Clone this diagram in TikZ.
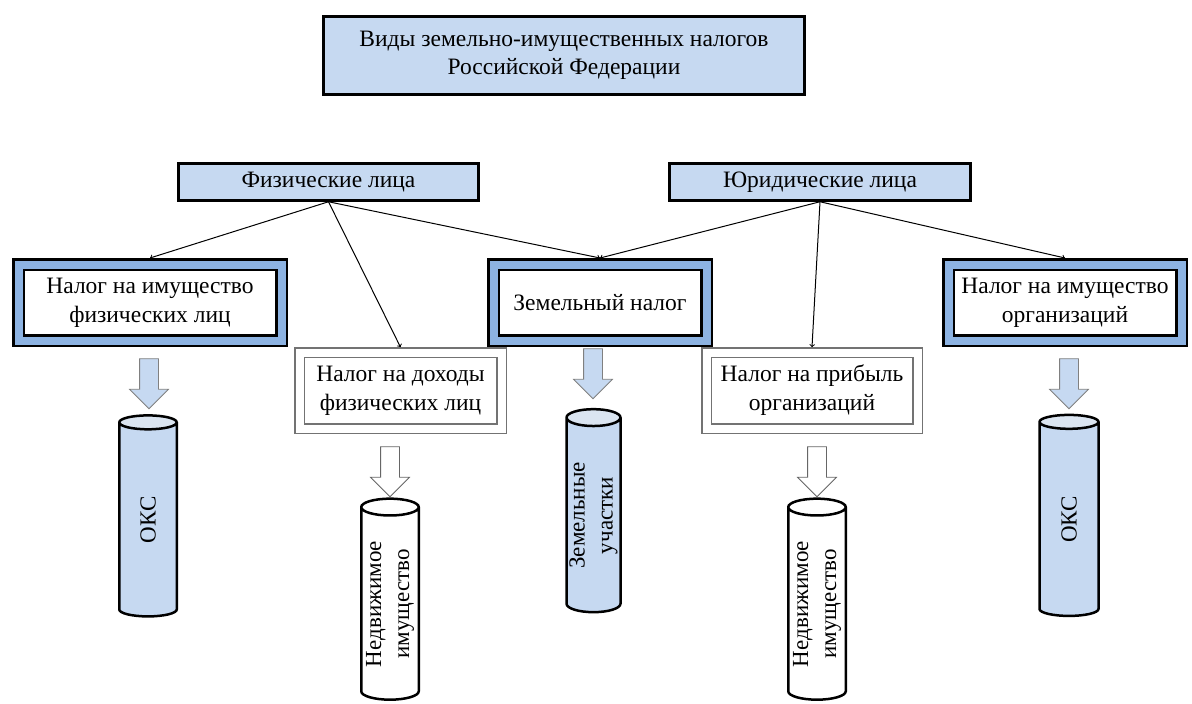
\documentclass[tikz,border=0pt]{standalone}
\usepackage{fontspec}
\setmainfont{Liberation Serif}
\usetikzlibrary{arrows,shapes.geometric,shapes.arrows}

\definecolor{paleblue}{HTML}{C6D9F1}
\definecolor{capblue}{HTML}{DBE5F1}
\definecolor{bandblue}{HTML}{8DB3E2}

\tikzset{
  kind/.style={draw, fill=paleblue, line width=2.5pt, align=center,
    font=\fontsize{23.5}{28}\selectfont},
  maintax/.style={draw, fill=white, line width=2.5pt, double=bandblue,
    double distance=8pt, outer sep=6.5pt, align=center,
    font=\fontsize{23.5}{29}\selectfont},
  othertax/.style={draw=black!55, fill=white, line width=1.3pt, double=white,
    double distance=8pt, outer sep=5.3pt, align=center,
    font=\fontsize{23.5}{29}\selectfont},
  base/.style={cylinder, rotate=90, draw, line width=2.5pt, aspect=0.35,
    cylinder uses custom fill, cylinder body fill=paleblue,
    cylinder end fill=capblue, align=center, inner sep=0pt,
    font=\fontsize{23}{28}\selectfont},
  down/.style={single arrow, rotate=-90, draw=black!50, line width=0.8pt,
    fill=paleblue, inner sep=9pt, single arrow head extend=10pt,
    minimum width=38, minimum height=50},
  link/.style={->, line width=1pt},
}

\begin{document}
\begin{tikzpicture}[x=1pt,y=-1pt]
    \useasboundingbox (0,0) rectangle (1192,704);

    \node[kind, minimum width=481, minimum height=78] at (564,55.5) (vidy)
        {Виды земельно-имущественных налогов\\Российской Федерации};
    \node[kind, minimum width=300, minimum height=37] at (328.5,182) (fiz) {Физические лица};
    \node[kind, minimum width=301, minimum height=37] at (820,182) (yur) {Юридические лица};

    \node[maintax, minimum width=263, minimum height=76] at (150,302.5) (nfl)
        {Налог на имущество\\физических лиц};
    \node[maintax, minimum width=213, minimum height=76] at (600,302.5) (zem) {Земельный налог};
    \node[maintax, minimum width=233, minimum height=76] at (1065,302.5) (norg)
        {Налог на имущество\\организаций};
    \node[othertax, minimum width=202, minimum height=76] at (400.5,390.5) (ndfl)
        {Налог на доходы\\физических лиц};
    \node[othertax, minimum width=211, minimum height=76] at (812,390.5) (npo)
        {Налог на прибыль\\организаций};

    \node[base, aspect=0.9, minimum height=201, minimum width=57.5] at (148,520) (oks1) {ОКС};
    \node[base, minimum height=201, minimum width=57.5, cylinder body fill=white,
        cylinder end fill=white] at (390,604) (nedv1) {Недвижимое\\имущество};
    \node[base, minimum height=203, minimum width=54] at (593.5,515.5) (uch) {Земельные\\участки};
    \node[base, minimum height=201, minimum width=57.5, cylinder body fill=white,
        cylinder end fill=white] at (817,604) (nedv2) {Недвижимое\\имущество};
    \node[base, aspect=0.9, minimum height=201, minimum width=59] at (1069,519.5) (oks2) {ОКС};

    \node[down] at (149,379) (s1) {};
    \node[down, fill=white, draw=black!60] at (390,467) (s2) {};
    \node[down] at (593,369) (s3) {};
    \node[down, fill=white, draw=black!60] at (817,467) (s4) {};
    \node[down] at (1069,379) (s5) {};

    \draw[link] (fiz.south) -- (nfl.north);
    \draw[link] (fiz.south) -- (ndfl.north);
    \draw[link] (fiz.south) -- (zem.north);
    \draw[link] (yur.south) -- (zem.north);
    \draw[link] (yur.south) -- (npo.north);
    \draw[link] (yur.south) -- (norg.north);
\end{tikzpicture}
\end{document}
